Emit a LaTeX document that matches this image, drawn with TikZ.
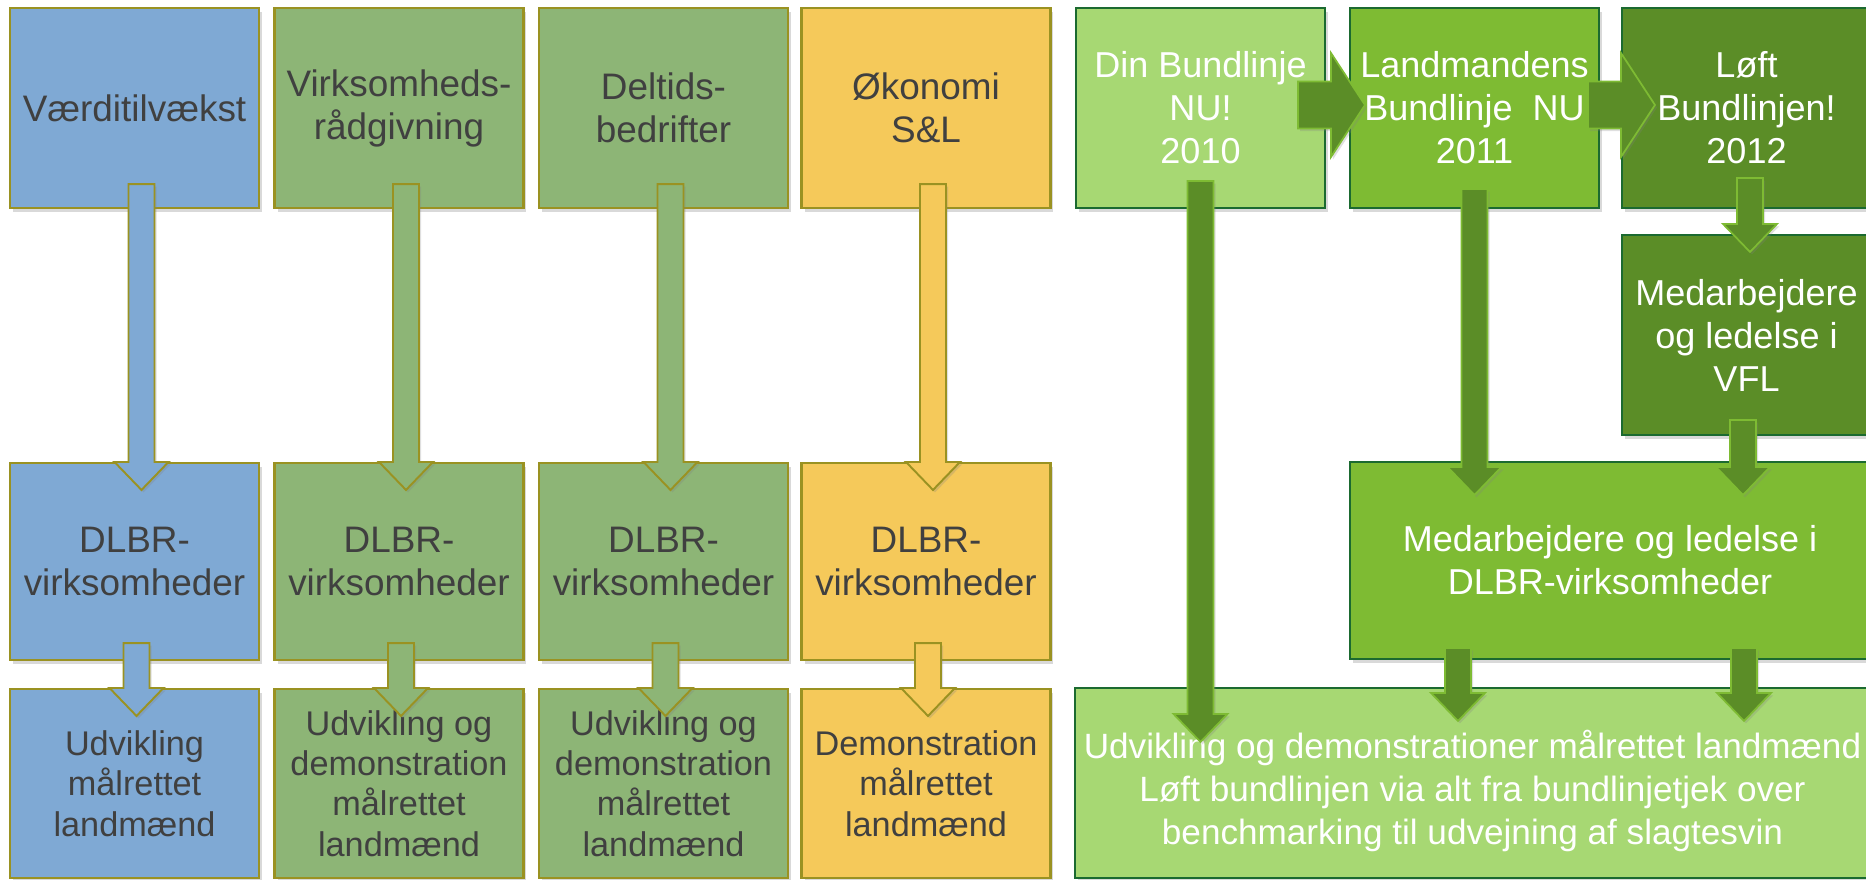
\documentclass[tikz,border=0pt]{standalone}
\usepackage{fontspec}
\setmainfont{Liberation Sans}
\usepackage{tikz}
\usetikzlibrary
  {
    calc,     % anchor arithmetic for the block arrows
    shadows,  % soft shadows under boxes and arrows
  }

\definecolor{vfblue}{HTML}{7FA9D4}
\definecolor{vfgreen}{HTML}{8DB576}
\definecolor{vfyellow}{HTML}{F5C95A}
\definecolor{vfolive}{HTML}{9A9222}
\definecolor{vftext}{HTML}{404040}
\definecolor{bnlight}{HTML}{A7D873}
\definecolor{bnmid}{HTML}{7EBB33}
\definecolor{bndark}{HTML}{5B8D27}
\definecolor{bnedge}{HTML}{1B6A30}

\tikzset{
  box/.style={rectangle, line width=1.2pt, align=center, inner sep=0pt,
    drop shadow={opacity=0.3, shadow xshift=0.6mm, shadow yshift=-0.8mm}},
  oldbox/.style={box, draw=vfolive, text=vftext, minimum width=4.98cm,
    font=\fontsize{21}{24.5}\selectfont},
  oldlow/.style={oldbox, minimum height=3.78cm, font=\fontsize{19.5}{23}\selectfont},
  newbox/.style={box, draw=bnedge, text=white, font=\fontsize{20.5}{24.5}\selectfont},
  oldarrow/.style={draw=vfolive, line width=1.1pt,
    drop shadow={opacity=0.25, shadow xshift=0.4mm, shadow yshift=-0.5mm}},
  newarrow/.style={fill=bndark, draw=bnmid, line width=1pt,
    drop shadow={opacity=0.25, shadow xshift=0.4mm, shadow yshift=-0.5mm}},
}

% block arrow downwards: [style]{from}{to}{x shift}{start inset}{tip inset}
\newcommand{\blockdown}[6][]{%
  \coordinate (s) at ($(#2.south)+(#4,-#5)$);
  \coordinate (t) at ($(#2.south |- #3.north)+(#4,#6)$);
  \draw[#1] ($(s)+(-13,0)$) -- ($(t)+(-13,-28)$) -- ($(t)+(-27,-28)$) -- (t)
    -- ($(t)+(27,-28)$) -- ($(t)+(13,-28)$) -- ($(s)+(13,0)$) -- cycle;}

% block arrow to the right: [style]{from}{to}{start inset}{tip inset}
\newcommand{\blockright}[5][]{%
  \coordinate (s) at ($(#2.east)+(-#4,-3)$);
  \coordinate (t) at ($(#3.west)+(#5,-3)$);
  \draw[#1] ($(s)+(0,-23.5)$) -- ($(t)+(-34,-23.5)$) -- ($(t)+(-34,-52)$) -- (t)
    -- ($(t)+(-34,52)$) -- ($(t)+(-34,23.5)$) -- ($(s)+(0,23.5)$) -- cycle;}

\begin{document}
\begin{tikzpicture}[x=0.02cm, y=-0.02cm]
  \useasboundingbox (0,0) rectangle (1866,879);
  \clip (0,0) rectangle (1866,879);

  % left half: four columns
  \node[oldbox, fill=vfblue,   minimum height=4cm] (vaerdi)   at (134.5,108) {Værditilvækst};
  \node[oldbox, fill=vfgreen,  minimum height=4cm] (raad)     at (399,108)   {Virksomheds-\\rådgivning};
  \node[oldbox, fill=vfgreen,  minimum height=4cm] (deltid)   at (663.5,108) {Deltids-\\bedrifter};
  \node[oldbox, fill=vfyellow, minimum height=4cm] (oekonomi) at (926,108)   {Økonomi\\S\&L};

  \node[oldbox, fill=vfblue,   minimum height=3.94cm] (dlbrA) at (134.5,561.5) {DLBR-\\virksomheder};
  \node[oldbox, fill=vfgreen,  minimum height=3.94cm] (dlbrB) at (399,561.5)   {DLBR-\\virksomheder};
  \node[oldbox, fill=vfgreen,  minimum height=3.94cm] (dlbrC) at (663.5,561.5) {DLBR-\\virksomheder};
  \node[oldbox, fill=vfyellow, minimum height=3.94cm] (dlbrD) at (926,561.5)   {DLBR-\\virksomheder};

  \node[oldlow, fill=vfblue]   (udvA) at (134.5,783.5) {Udvikling\\målrettet\\landmænd};
  \node[oldlow, fill=vfgreen]  (udvB) at (399,783.5)   {Udvikling og\\demonstration\\målrettet\\landmænd};
  \node[oldlow, fill=vfgreen]  (udvC) at (663.5,783.5) {Udvikling og\\demonstration\\målrettet\\landmænd};
  \node[oldlow, fill=vfyellow] (udvD) at (926,783.5)   {Demonstration\\målrettet\\landmænd};

  % right half: Bundlinje NU
  \node[newbox, fill=bnlight, minimum width=4.98cm, minimum height=4cm] (nu2010)    at (1200.5,108) {Din Bundlinje\\NU!\\2010};
  \node[newbox, fill=bnmid,   minimum width=4.98cm, minimum height=4cm] (nu2011)    at (1474.5,108) {Landmandens\\Bundlinje~ NU\\2011};
  \node[newbox, fill=bndark,  minimum width=4.98cm, minimum height=4cm] (loeft2012) at (1746.5,108) {Løft\\Bundlinjen!\\2012};
  \node[newbox, fill=bndark,  minimum width=4.98cm, minimum height=4cm] (vfl)       at (1746.5,335) {Medarbejdere\\og ledelse i\\VFL};
  \node[newbox, fill=bnmid,   minimum width=10.4cm, minimum height=3.94cm] (medarb) at (1610,560.5) {Medarbejdere og ledelse i\\DLBR-virksomheder};
  \node[newbox, fill=bnlight, minimum width=15.9cm, minimum height=3.8cm] (udvbund) at (1472.5,783) {};
  \node[text=white, align=center, font=\fontsize{20}{24.5}\selectfont] (udvtekst) at (1472.5,791)
    {Udvikling og demonstrationer målrettet landmænd\\Løft bundlinjen via alt fra bundlinjetjek over\\benchmarking til udvejning af slagtesvin};

  % arrows on top
  \blockdown[oldarrow, fill=vfblue]{vaerdi}{dlbrA}{7}{25}{28}
  \blockdown[oldarrow, fill=vfgreen]{raad}{dlbrB}{7}{25}{28}
  \blockdown[oldarrow, fill=vfgreen]{deltid}{dlbrC}{7}{25}{28}
  \blockdown[oldarrow, fill=vfyellow]{oekonomi}{dlbrD}{7}{25}{28}
  \blockdown[oldarrow, fill=vfblue]{dlbrA}{udvA}{2}{18}{28}
  \blockdown[oldarrow, fill=vfgreen]{dlbrB}{udvB}{2}{18}{28}
  \blockdown[oldarrow, fill=vfgreen]{dlbrC}{udvC}{2}{18}{28}
  \blockdown[oldarrow, fill=vfyellow]{dlbrD}{udvD}{2}{18}{28}

  \blockright[newarrow]{nu2010}{nu2011}{28}{16}
  \blockright[newarrow]{nu2011}{loeft2012}{12}{34}
  \blockdown[newarrow]{nu2010}{udvbund}{0}{28}{55}
  \blockdown[newarrow]{nu2011}{medarb}{0}{20}{34}
  \blockdown[newarrow]{loeft2012}{vfl}{3.5}{31}{18}
  \blockdown[newarrow]{vfl}{medarb}{-3.5}{16}{34}
  \blockdown[newarrow]{medarb}{udvbund}{-152}{12}{34}
  \blockdown[newarrow]{medarb}{udvbund}{134}{12}{34}
\end{tikzpicture}
\end{document}
